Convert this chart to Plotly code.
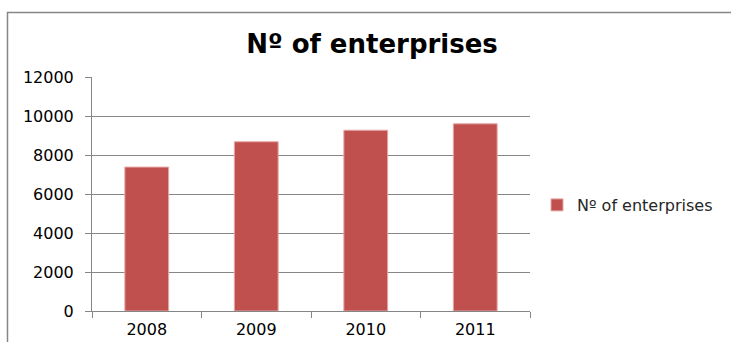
import plotly.graph_objects as go

years = ["2008", "2009", "2010", "2011"]
enterprises = [7380, 8680, 9270, 9600]
series_name = "Nº of enterprises"
title_text = "Nº of enterprises"
y_ticks = [0, 2000, 4000, 6000, 8000, 10000, 12000]
y_tick_labels = ["0", "2000", "4000", "6000", "8000", "10000", "12000"]

W, H = 731, 342
L, R, T, B = 92, 201, 77, 31
pw, ph = W - L - R, H - T - B

def px_to_paper_x(px):
    return (px - L) / pw

def px_to_paper_y(py):
    return (H - B - py) / ph

fig = go.Figure()
fig.add_trace(go.Bar(
    x=years, y=enterprises, name=series_name,
    marker=dict(color="#C0504D", line=dict(color="#E6A7A6", width=1)),
    width=0.4, showlegend=True,
))

font_family = "DejaVu Sans"
fig.update_layout(
    width=W, height=H,
    margin=dict(l=L, r=R, t=T, b=B, autoexpand=False),
    paper_bgcolor="white", plot_bgcolor="white",
    title=dict(text="<b>" + title_text + "</b>", x=372 / W, xanchor="center",
               y=1 - 44 / H, yanchor="middle", yref="container", xref="container",
               font=dict(family=font_family, size=26, color="#000000")),
    showlegend=True,
    legend=dict(x=px_to_paper_x(537), y=px_to_paper_y(205), xanchor="left", yanchor="middle",
                font=dict(family=font_family, size=16, color="#262626"),
                itemwidth=30, bgcolor="rgba(0,0,0,0)"),
    xaxis=dict(type="category", showgrid=False, showline=True, linecolor="#868686",
               ticks="outside", ticklen=6, tickcolor="#868686", tickson="boundaries",
               tickfont=dict(family=font_family, size=16, color="#000000"),
               ticklabelstandoff=4, range=[-0.5, 3.5], automargin=False),
    yaxis=dict(range=[0, 12000], tickvals=y_ticks, ticktext=y_tick_labels,
               showgrid=True, gridcolor="#868686",
               gridwidth=1, showline=True, linecolor="#868686", ticks="outside",
               ticklen=6, tickcolor="#868686", zeroline=False, automargin=False,
               tickfont=dict(family=font_family, size=16, color="#000000"),
               ticklabelstandoff=8),
    shapes=[dict(type="rect", xref="paper", yref="paper",
                 x0=px_to_paper_x(7.5), x1=px_to_paper_x(760),
                 y0=px_to_paper_y(370), y1=px_to_paper_y(12.5),
                 line=dict(color="#868686", width=1.5), layer="below")],
)

fig.write_html("out.html")
